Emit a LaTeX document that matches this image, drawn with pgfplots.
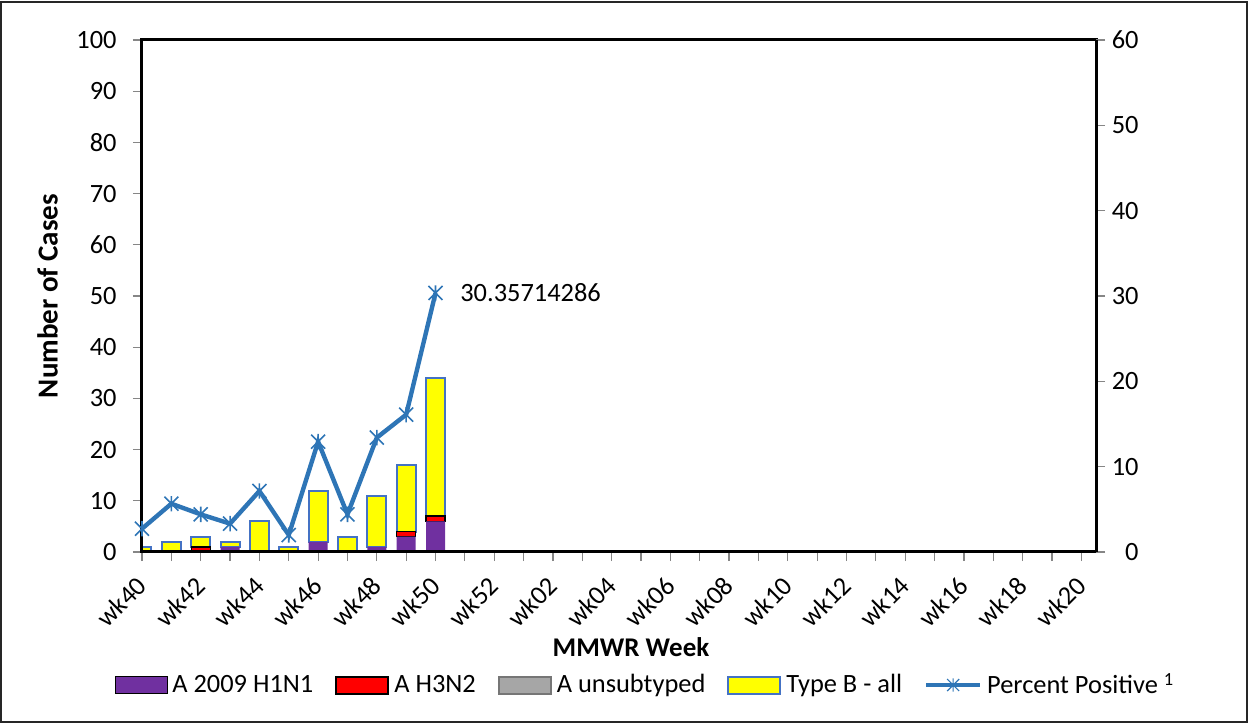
\documentclass[border=0pt]{standalone}
\usepackage{fontspec}
\setmainfont{Carlito}
\usepackage{pgfplots}
\pgfplotsset{compat=1.18}
\definecolor{cpurple}{RGB}{112,48,160}
\definecolor{cred}{RGB}{255,0,0}
\definecolor{cgray}{RGB}{166,166,166}
\definecolor{cgrayb}{RGB}{118,118,118}
\definecolor{cyellow}{RGB}{255,255,0}
\definecolor{cbord}{RGB}{68,114,196}
\definecolor{cline}{RGB}{46,117,182}
\definecolor{ctick}{RGB}{134,134,134}
\newcommand{\fs}{\fontsize{13.2pt}{16pt}\selectfont}
\pgfdeclareplotmark{xstar}{%
  \pgfpathmoveto{\pgfqpoint{-\pgfplotmarksize}{-\pgfplotmarksize}}%
  \pgfpathlineto{\pgfqpoint{\pgfplotmarksize}{\pgfplotmarksize}}%
  \pgfpathmoveto{\pgfqpoint{-\pgfplotmarksize}{\pgfplotmarksize}}%
  \pgfpathlineto{\pgfqpoint{\pgfplotmarksize}{-\pgfplotmarksize}}%
  \pgfpathmoveto{\pgfqpoint{0pt}{-1.1\pgfplotmarksize}}%
  \pgfpathlineto{\pgfqpoint{0pt}{1.1\pgfplotmarksize}}%
  \pgfusepathqstroke}
\pgfplotsset{
  myarea/.style={legend image code/.code={\draw[##1] (0pt,-4.25pt) rectangle (26pt,4.25pt);}},
  myline/.style={legend image code/.code={\draw[mark repeat=2,mark phase=2,##1] plot coordinates {(0pt,0pt) (13.5pt,0pt) (27pt,0pt)};}},
  base/.style={
    at={(0pt,0pt)}, anchor=south west,
    scale only axis, width=477pt, height=256pt,
    xmin=0, xmax=32.5,
    tick align=outside, major tick length=4.5pt,
    major tick style={ctick, line width=0.6pt},
    axis line style={line width=1.5pt, black},
    tick label style={font=\fs, text=black},
    /pgf/number format/assume math mode=true,
  },
}
\begin{document}
\begin{tikzpicture}
\path[use as bounding box] (-71pt,-86pt) rectangle (554pt,276pt);
\draw[line width=0.7pt, black!85] (-70.5pt,-85pt) rectangle (552.5pt,275pt);
\begin{axis}[base,
  ymin=0, ymax=100, ytick={0,10,...,100},
  xtick pos=bottom, ytick pos=left,
  xtick={0,...,32},
  xticklabels={wk40,,wk42,,wk44,,wk46,,wk48,,wk50,,wk52,,wk02,,wk04,,wk06,,wk08,,wk10,,wk12,,wk14,,wk16,,wk18,,wk20},
  xticklabel style={rotate=45, anchor=east, inner sep=0pt},
  xticklabel shift=10pt,
  yticklabel style={anchor=east, inner sep=0pt},
  yticklabel shift=8pt,
  ybar stacked, bar width=9.5pt,
  axis on top,
  ylabel={\bfseries Number of Cases},
  ylabel style={at={(axis description cs:-0.099,0.5)}, anchor=center, inner sep=0pt, font=\fontsize{14.5pt}{17pt}\selectfont},
  xlabel={\bfseries MMWR Week},
  xlabel style={at={(axis description cs:0.5126,-0.1865)}, anchor=center, inner sep=0pt, font=\fontsize{13.5pt}{16pt}\selectfont},
]
\addplot[fill=cpurple, draw=none] coordinates {(0,0) (1,0) (2,0) (3,1) (4,0) (5,0) (6,2) (7,0) (8,1) (9,3) (10,6)};
\addplot[fill=cred, draw=black, line width=0.7pt] coordinates {(0,0) (1,0) (2,1) (3,0) (4,0) (5,0) (6,0) (7,0) (8,0) (9,1) (10,1)};
\addplot[fill=cgray, draw=none] coordinates {(0,0) (1,0) (2,0) (3,0) (4,0) (5,0) (6,0) (7,0) (8,0) (9,0) (10,0)};
\addplot[fill=cyellow, draw=cbord, line width=1pt] coordinates {(0,1) (1,2) (2,2) (3,1) (4,6) (5,1) (6,10) (7,3) (8,10) (9,13) (10,27)};
\end{axis}
\begin{axis}[base,
  ymin=0, ymax=60, ytick={0,10,...,60},
  hide x axis, ytick pos=right, yticklabel pos=right,
  yticklabel style={anchor=east, inner sep=0pt},
  yticklabel shift=17pt,
  clip=false,
  legend style={at={(axis description cs:0.5266,-0.2598)}, anchor=center, draw=none, fill=none,
    font=\fs, legend columns=5, inner sep=0pt,
    nodes={inner sep=0pt},
    /tikz/every odd column/.append style={column sep=2.5pt},
    /tikz/every even column/.append style={column sep=11pt}},
  legend cell align=left,
]
\addlegendimage{myarea, fill=cpurple, draw=none}
\addlegendentry{A 2009 H1N1}
\addlegendimage{myarea, fill=cred, draw=black, line width=1pt}
\addlegendentry{A H3N2}
\addlegendimage{myarea, fill=cgray, draw=cgrayb, line width=1pt}
\addlegendentry{A unsubtyped}
\addlegendimage{myarea, fill=cyellow, draw=cbord, line width=1pt}
\addlegendentry{Type B - all}
\addlegendimage{myline, color=cline, line width=2pt, mark=xstar, mark size=3pt, mark options={line width=0.6pt}}
\addlegendentry{Percent Positive \textsuperscript{1}}
\addplot[forget plot, color=cline, line width=2.2pt, mark=xstar, mark size=3.5pt, mark options={line width=0.8pt},
  nodes near coords, point meta=explicit symbolic,
  nodes near coords style={anchor=west, xshift=12pt, inner sep=0pt, font=\fs, text=black}]
  coordinates {(0,2.73) [] (1,5.66) [] (2,4.41) [] (3,3.32) [] (4,7.15) [] (5,1.99) [] (6,12.93) [] (7,4.41) [] (8,13.40) [] (9,16.10) [] (10,30.35714286) [30.35714286]};
\end{axis}
\end{tikzpicture}
\end{document}
